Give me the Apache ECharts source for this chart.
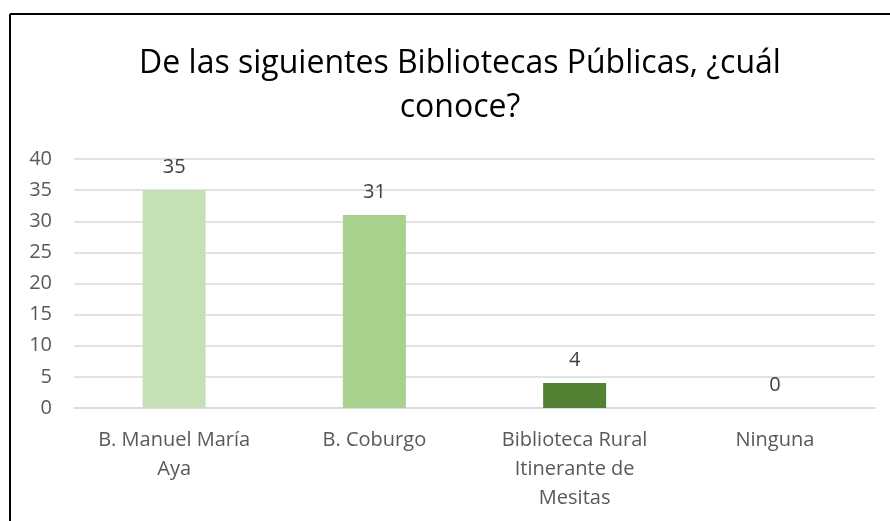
<!DOCTYPE html>
<html>
<head>
<meta charset="utf-8">
<script src="https://cdn.jsdelivr.net/npm/echarts@6/dist/echarts.min.js"></script>
<style>
html,body{margin:0;padding:0;background:#fff;}
#chart{width:890px;height:521px;}
</style>
</head>
<body>
<div id="chart"></div>
<script>
var titleText = 'De las siguientes Bibliotecas Públicas, ¿cuál\nconoce?';
var categories = ['B. Manuel María Aya', 'B. Coburgo', 'Biblioteca Rural Itinerante de Mesitas', 'Ninguna'];
var categoryLabels = ['B. Manuel María\nAya', 'B. Coburgo', 'Biblioteca Rural\nItinerante de\nMesitas', 'Ninguna'];
var values = [35, 31, 4, 0];
var barColors = ['#c5e0b4', '#a9d18e', '#548235', '#385723'];
var yTicks = [0, 5, 10, 15, 20, 25, 30, 35, 40];

var font = '"Open Sans", "Noto Sans", sans-serif';
var chart = echarts.init(document.getElementById('chart'), null, {renderer: 'canvas'});
chart.setOption({
  animation: false,
  backgroundColor: '#fff',
  title: {
    text: titleText,
    left: 455,
    textAlign: 'center',
    top: 37,
    textStyle: {fontFamily: font, fontSize: 32, fontWeight: 'normal', color: '#000', lineHeight: 44}
  },
  graphic: [
    {type: 'line', shape: {x1: 10, y1: 14, x2: 890, y2: 14}, style: {stroke: '#000', lineWidth: 2}},
    {type: 'line', shape: {x1: 10, y1: 14, x2: 10, y2: 521}, style: {stroke: '#000', lineWidth: 2}}
  ],
  grid: {left: 74, right: 15, top: 159, bottom: 113, containLabel: false},
  xAxis: {
    type: 'category',
    data: categories,
    axisLine: {lineStyle: {color: '#d9d9d9', width: 1.5}},
    axisTick: {show: false},
    axisLabel: {
      interval: 0,
      margin: 18,
      color: '#595959',
      fontFamily: font,
      fontSize: 20,
      lineHeight: 29,
      formatter: function (v, i) { return categoryLabels[i]; }
    }
  },
  yAxis: {
    type: 'value',
    min: yTicks[0],
    max: yTicks[yTicks.length - 1],
    interval: yTicks[1] - yTicks[0],
    axisLine: {show: false},
    axisTick: {show: false},
    splitLine: {lineStyle: {color: '#d9d9d9', width: 1.5}},
    axisLabel: {margin: 22, color: '#595959', fontFamily: font, fontSize: 20}
  },
  series: [{
    type: 'bar',
    barWidth: 63,
    data: values.map(function (v, i) { return {value: v, itemStyle: {color: barColors[i]}}; }),
    label: {
      show: true,
      position: 'top',
      distance: 13,
      color: '#404040',
      fontFamily: font,
      fontSize: 20
    }
  }]
});
</script>
</body>
</html>
